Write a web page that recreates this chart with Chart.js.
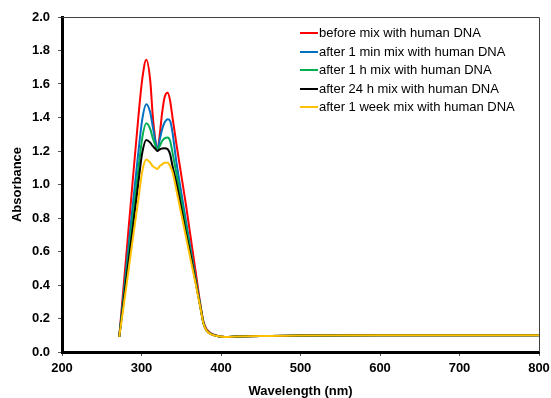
<!DOCTYPE html>
<html>
<head>
<meta charset="utf-8">
<script src="https://cdn.jsdelivr.net/npm/chart.js@4/dist/chart.umd.min.js"></script>
<style>
html,body{margin:0;padding:0;background:#fff;}
#wrap{width:551px;height:398px;position:relative;}
</style>
</head>
<body>
<div id="wrap"><canvas id="c" width="551" height="398"></canvas></div>
<script>
const wavelengths = [272,280,288,296,301,306,311,314,317,320,323,326,329,333,336,339,344,350,356,362,368,374,378,382,388,395,405,420,450,500,600,700,800];
const beforeMix = [0.09,0.53,0.97,1.40,1.63,1.745,1.62,1.42,1.28,1.206,1.30,1.43,1.52,1.548,1.50,1.40,1.24,1.057,0.876,0.68,0.483,0.286,0.18,0.135,0.11,0.097,0.09,0.092,0.095,0.099,0.1,0.1,0.1];
const after1min = [0.09,0.46,0.83,1.19,1.39,1.479,1.43,1.35,1.27,1.205,1.27,1.33,1.37,1.39,1.38,1.31,1.13,0.953,0.78,0.61,0.44,0.276,0.175,0.13,0.108,0.096,0.09,0.092,0.095,0.099,0.1,0.1,0.1];
const after1h = [0.09,0.42,0.76,1.09,1.28,1.365,1.33,1.28,1.24,1.205,1.23,1.26,1.275,1.28,1.26,1.19,1.065,0.906,0.75,0.59,0.43,0.273,0.172,0.128,0.107,0.096,0.09,0.092,0.095,0.099,0.1,0.1,0.1];
const after24h = [0.09,0.40,0.70,1.01,1.19,1.266,1.25,1.23,1.215,1.20,1.21,1.215,1.216,1.21,1.18,1.11,1.008,0.86,0.71,0.57,0.42,0.27,0.17,0.127,0.106,0.096,0.09,0.092,0.095,0.099,0.1,0.1,0.1];
const after1week = [0.09,0.36,0.64,0.91,1.08,1.15,1.13,1.11,1.10,1.093,1.11,1.12,1.13,1.13,1.11,1.075,0.964,0.825,0.686,0.547,0.41,0.266,0.168,0.126,0.105,0.095,0.09,0.092,0.095,0.099,0.1,0.1,0.1];
const seriesLabels = ["before mix with human DNA","after 1 min mix with human DNA","after 1 h mix with human DNA","after 24 h mix with human DNA","after 1 week mix with human DNA"];
const seriesColors = ["#FF0000","#0070C0","#00B050","#000000","#FFC000"];
const seriesValues = [beforeMix, after1min, after1h, after24h, after1week];
const yTicks = [0,0.2,0.4,0.6,0.8,1.0,1.2,1.4,1.6,1.8,2.0];
const xTicks = [200,300,400,500,600,700,800];

const FONT = '"Liberation Sans", Arial, Helvetica, sans-serif';

const datasets = seriesValues.map((vals, i) => ({
  label: seriesLabels[i],
  data: wavelengths.map((w, j) => ({x: w, y: vals[j]})),
  borderColor: seriesColors[i],
  backgroundColor: seriesColors[i],
  borderWidth: 2,
  pointRadius: 0,
  fill: false,
  cubicInterpolationMode: 'monotone',
  order: seriesValues.length - i
}));

const framePlugin = {
  id: 'frame',
  afterDatasetsDraw(chart) {
    const {ctx, chartArea: a} = chart;
    ctx.save();
    ctx.strokeStyle = '#404040';
    ctx.lineWidth = 1;
    ctx.beginPath();
    ctx.moveTo(Math.round(a.left) , Math.round(a.top) + 0.5);
    ctx.lineTo(Math.round(a.right) + 0.5, Math.round(a.top) + 0.5);
    ctx.lineTo(Math.round(a.right) + 0.5, Math.round(a.bottom));
    ctx.stroke();
    ctx.restore();
  },
  afterDraw(chart) {
    const ctx = chart.ctx;
    ctx.save();
    ctx.font = '13px ' + FONT;
    ctx.textBaseline = 'middle';
    ctx.textAlign = 'left';
    chart.data.datasets.forEach((ds, i) => {
      const y = 33 + i * 18.5;
      ctx.strokeStyle = ds.borderColor;
      ctx.lineWidth = 2;
      ctx.beginPath();
      ctx.moveTo(300, Math.round(y));
      ctx.lineTo(318, Math.round(y));
      ctx.stroke();
      ctx.fillStyle = '#000';
      ctx.fillText(ds.label, 319, Math.round(y));
    });
    ctx.restore();
  }
};

new Chart(document.getElementById('c'), {
  type: 'line',
  data: { datasets },
  options: {
    responsive: false,
    animation: false,
    devicePixelRatio: 1,
    layout: { padding: { left: 0, right: 12, top: 17, bottom: 0 } },
    plugins: { legend: { display: false }, tooltip: { enabled: false } },
    scales: {
      x: {
        type: 'linear',
        min: 200, max: 800,
        afterFit(s) { s.height = 46; s.paddingLeft = 0; s.paddingRight = 0; },
        afterBuildTicks(s) { s.ticks = xTicks.map(v => ({value: v})); },
        ticks: { font: { size: 13, weight: 'bold', family: FONT }, color: '#000', padding: 5, maxRotation: 0, callback: v => String(v) },
        grid: { drawOnChartArea: false, drawTicks: true, tickLength: 4, tickColor: '#555', tickWidth: 1 },
        border: { display: true, color: '#000', width: 3 },
        title: { display: true, text: 'Wavelength (nm)', color: '#000', font: { size: 13, weight: 'bold', family: FONT }, padding: { top: 0, bottom: -1 } }
      },
      y: {
        type: 'linear',
        min: 0, max: 2,
        afterFit(s) { s.width = 62; s.paddingTop = 0; s.paddingBottom = 0; },
        afterBuildTicks(s) { s.ticks = yTicks.map(v => ({value: v})); },
        ticks: { font: { size: 13, weight: 'bold', family: FONT }, color: '#000', padding: 8, callback: v => Number(v).toFixed(1) },
        grid: { drawOnChartArea: false, drawTicks: true, tickLength: 4, tickColor: '#555', tickWidth: 1 },
        border: { display: true, color: '#000', width: 3 },
        title: { display: true, text: 'Absorbance', color: '#000', font: { size: 13, weight: 'bold', family: FONT }, padding: { top: 10, bottom: 0 } }
      }
    }
  },
  plugins: [framePlugin]
});
</script>
</body>
</html>
